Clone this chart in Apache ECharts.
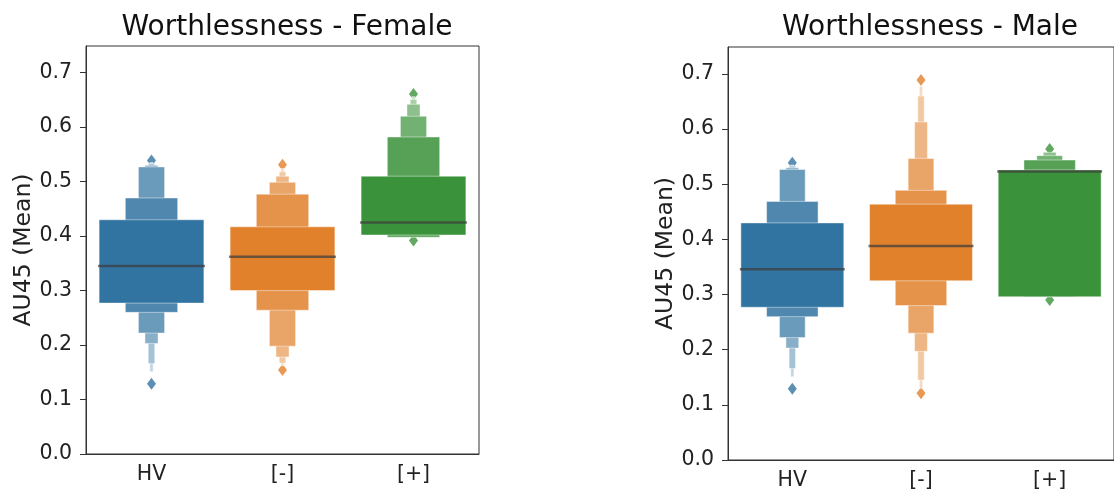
<!DOCTYPE html>
<html>
<head>
<meta charset="utf-8">
<script src="https://cdn.jsdelivr.net/npm/echarts@6/dist/echarts.min.js"></script>
<style>
  html, body { margin: 0; padding: 0; background: #fff; }
  #chart { width: 1114px; height: 492px; }
</style>
</head>
<body>
<div id="chart"></div>
<script>
const categories = ['HV', '[-]', '[+]'];
const yTicks = [0, 0.1, 0.2, 0.3, 0.4, 0.5, 0.6, 0.7];
const palette = ['#3274a1', '#e1812c', '#3a923a'];

// letter-value box ends per group, widest box first
const femaleLower = [
  [0.277, 0.260, 0.222, 0.203, 0.166, 0.151],
  [0.300, 0.264, 0.198, 0.178, 0.167, 0.162],
  [0.402, 0.398, 0.399, 0.399, 0.399, 0.399]
];
const femaleUpper = [
  [0.430, 0.470, 0.527, 0.530, 0.533, 0.535],
  [0.417, 0.477, 0.499, 0.510, 0.518, 0.524],
  [0.510, 0.582, 0.620, 0.642, 0.651, 0.656]
];
const femaleMedian = [0.345, 0.362, 0.425];
const femaleOutliers = [[0, 0.129], [0, 0.539], [1, 0.154], [1, 0.531], [2, 0.392], [2, 0.661]];

const maleLower = [
  [0.277, 0.260, 0.222, 0.203, 0.166, 0.151],
  [0.325, 0.280, 0.230, 0.197, 0.145, 0.130],
  [0.296, 0.296, 0.297, 0.298]
];
const maleUpper = [
  [0.430, 0.469, 0.527, 0.530, 0.533, 0.535],
  [0.464, 0.489, 0.547, 0.613, 0.660, 0.678],
  [0.526, 0.544, 0.552, 0.558]
];
const maleMedian = [0.346, 0.388, 0.523];
const maleOutliers = [[0, 0.129], [0, 0.539], [1, 0.121], [1, 0.689], [2, 0.290], [2, 0.564]];

function lighten(hex, t) {
  let r = parseInt(hex.slice(1, 3), 16), g = parseInt(hex.slice(3, 5), 16), b = parseInt(hex.slice(5, 7), 16);
  r = Math.round(r + (255 - r) * t);
  g = Math.round(g + (255 - g) * t);
  b = Math.round(b + (255 - b) * t);
  return 'rgb(' + r + ',' + g + ',' + b + ')';
}

function boxData(lower, upper) {
  let data = [];
  lower.forEach((lows, g) => {
    let k = lows.length;
    // outer (narrow) boxes first so the widest one sits on top
    for (let i = k - 1; i >= 0; i--) {
      data.push([g, i, lows[i], upper[g][i], k]);
    }
  });
  return data;
}

function renderBox(params, api) {
  let g = api.value(0), lvl = api.value(1);
  let band = api.size([1, 0])[0];
  let w = band * 0.8 * Math.pow(0.5, lvl);
  let top = api.coord([g, api.value(3)]);
  let bot = api.coord([g, api.value(2)]);
  return {
    type: 'rect',
    shape: { x: top[0] - w / 2, y: top[1], width: w, height: bot[1] - top[1] },
    style: {
      fill: lighten(palette[g], 0.14 * lvl),
      stroke: 'rgba(255,255,255,0.45)',
      lineWidth: 1
    }
  };
}

function renderMedian(params, api) {
  let g = api.value(0);
  let band = api.size([1, 0])[0];
  let w = band * 0.8 + 2;
  let p = api.coord([g, api.value(1)]);
  return {
    type: 'line',
    shape: { x1: p[0] - w / 2, y1: p[1], x2: p[0] + w / 2, y2: p[1] },
    style: { stroke: 'rgba(61,61,61,0.72)', lineWidth: 2.5 }
  };
}

function outlierData(list) {
  return list.map(item => ({ value: item, itemStyle: { color: palette[item[0]] } }));
}

const font = 'DejaVu Sans';

function makeXAxis(idx) {
  return {
    type: 'category',
    gridIndex: idx,
    data: categories,
    axisLine: { lineStyle: { color: '#333', width: 1 } },
    axisTick: { alignWithLabel: true, length: 6, lineStyle: { color: '#333' } },
    axisLabel: { fontSize: 20.5, color: '#222', margin: 10, fontFamily: font }
  };
}

function makeYAxis(idx) {
  return {
    type: 'value',
    gridIndex: idx,
    min: 0,
    max: 0.749,
    name: 'AU45 (Mean)',
    nameLocation: 'middle',
    nameGap: 50,
    nameTextStyle: { fontSize: 23.5, color: '#222', fontFamily: font },
    axisLine: { show: true, lineStyle: { color: '#333', width: 1 } },
    axisTick: { show: true, length: 6, customValues: yTicks, lineStyle: { color: '#333' } },
    axisLabel: {
      fontSize: 20.5, color: '#222', margin: 14, fontFamily: font,
      customValues: yTicks,
      formatter: v => v.toFixed(1)
    },
    splitLine: { show: false }
  };
}

let myChart = echarts.init(document.getElementById('chart'));
let option = {
  animation: false,
  title: [
    {
      text: 'Worthlessness - Female',
      left: 282, top: 9, textAlign: 'center',
      textStyle: { fontSize: 28, fontWeight: 'normal', color: '#111', fontFamily: font }
    },
    {
      text: 'Worthlessness - Male',
      left: 925, top: 9, textAlign: 'center',
      textStyle: { fontSize: 28, fontWeight: 'normal', color: '#111', fontFamily: font }
    }
  ],
  grid: [
    { left: 86, top: 46, width: 393, height: 408, show: true, borderColor: '#333', borderWidth: 1 },
    { left: 728, top: 47, width: 394.5, height: 413, show: true, borderColor: '#333', borderWidth: 1 }
  ],
  xAxis: [makeXAxis(0), makeXAxis(1)],
  yAxis: [makeYAxis(0), makeYAxis(1)],
  series: [
    {
      type: 'scatter', xAxisIndex: 0, yAxisIndex: 0, z: 1,
      symbol: 'diamond', symbolSize: [9, 12],
      data: outlierData(femaleOutliers)
    },
    {
      type: 'custom', xAxisIndex: 0, yAxisIndex: 0, z: 2, clip: false,
      renderItem: renderBox,
      encode: { x: 0, y: [2, 3] },
      data: boxData(femaleLower, femaleUpper)
    },
    {
      type: 'custom', xAxisIndex: 0, yAxisIndex: 0, z: 3,
      renderItem: renderMedian,
      encode: { x: 0, y: 1 },
      data: femaleMedian.map((v, g) => [g, v])
    },
    {
      type: 'scatter', xAxisIndex: 1, yAxisIndex: 1, z: 1,
      symbol: 'diamond', symbolSize: [9, 12],
      data: outlierData(maleOutliers)
    },
    {
      type: 'custom', xAxisIndex: 1, yAxisIndex: 1, z: 2, clip: false,
      renderItem: renderBox,
      encode: { x: 0, y: [2, 3] },
      data: boxData(maleLower, maleUpper)
    },
    {
      type: 'custom', xAxisIndex: 1, yAxisIndex: 1, z: 3,
      renderItem: renderMedian,
      encode: { x: 0, y: 1 },
      data: maleMedian.map((v, g) => [g, v])
    }
  ]
};
myChart.setOption(option);
</script>
</body>
</html>
